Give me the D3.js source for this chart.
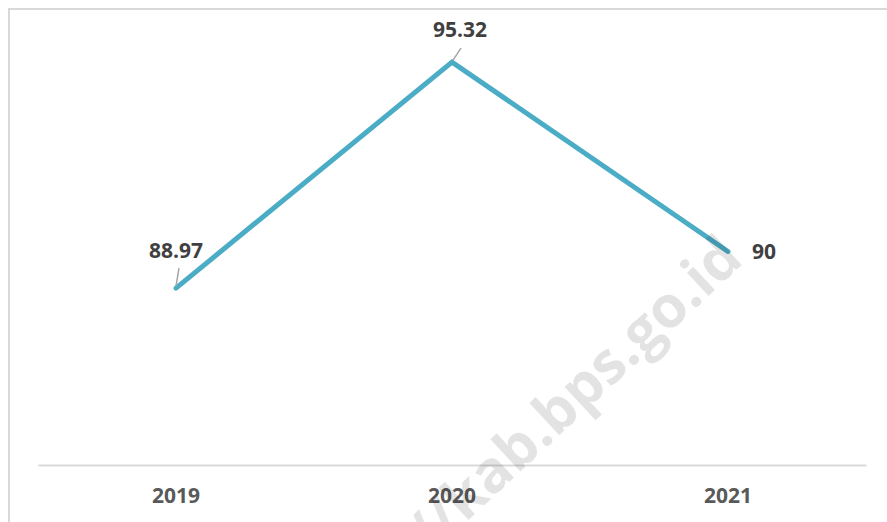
<html>
<head>
<meta charset="UTF-8" />
<script src="https://cdn.jsdelivr.net/npm/d3@7/dist/d3.min.js"></script>
<style>
  body { margin: 0; background: #fff; }
  text { font-family: "Open Sans", "DejaVu Sans", sans-serif; }
</style>
</head>
<body>
<div id="chart"></div>
<script>
// data
const years = ["2019", "2020", "2021"];
const values = [88.97, 95.32, 90];
const valueLabels = ["88.97", "95.32", "90"];

const width = 887, height = 522;

const svg = d3.select("#chart").append("svg")
    .attr("width", width)
    .attr("height", height);

// cadre gris (haut + gauche)
svg.append("path")
    .attr("d", "M9,522 V9 H887")
    .attr("fill", "none")
    .attr("stroke", "#d9d9d9")
    .attr("stroke-width", 2);

const x = d3.scaleBand().domain(years).range([38, 866]);
const y = d3.scaleLinear().domain([84, 97]).range([465, 2.3]);
const cx = d => x(d) + x.bandwidth() / 2;

// axe horizontal
const xAxis = svg.append("g")
    .attr("transform", "translate(0,465)")
    .call(d3.axisBottom(x).tickSize(0).tickPadding(23));
xAxis.select(".domain").attr("stroke", "#d9d9d9").attr("stroke-width", 2);
xAxis.selectAll("text")
    .attr("fill", "#595959")
    .style("font-size", "21px")
    .style("font-weight", "bold")
    .style("font-family", "'Open Sans', sans-serif");

const pts = years.map((d, i) => [cx(d), y(values[i])]);

// ligne
svg.append("path")
    .datum(pts)
    .attr("d", d3.line())
    .attr("fill", "none")
    .attr("stroke", "#4bacc6")
    .attr("stroke-width", 5)
    .attr("stroke-linecap", "round")
    .attr("stroke-linejoin", "miter");

// étiquettes de valeurs (avec petites lignes de rappel)
const labelPos = [
    { dx: 0, dy: -30, anchor: "middle", leader: [[0, -2], [3, -20]] },
    { dx: 8, dy: -25, anchor: "middle", leader: [[1, -2], [9, -14]] },
    { dx: 24, dy: 8, anchor: "start", leader: null }
];

labelPos.forEach((p, i) => {
    const [px, py] = pts[i];
    if (p.leader) {
        svg.append("line")
            .attr("x1", px + p.leader[0][0]).attr("y1", py + p.leader[0][1])
            .attr("x2", px + p.leader[1][0]).attr("y2", py + p.leader[1][1])
            .attr("stroke", "#a6a6a6")
            .attr("stroke-width", 1.5);
    }
    svg.append("text")
        .attr("x", px + p.dx)
        .attr("y", py + p.dy)
        .attr("text-anchor", p.anchor)
        .attr("fill", "#404040")
        .style("font-size", "21px")
        .style("font-weight", "bold")
        .text(valueLabels[i]);
});

// filigrane
svg.append("text")
    .attr("transform", "translate(745,262) rotate(-43)")
    .attr("text-anchor", "end")
    .attr("fill", "#000")
    .attr("fill-opacity", 0.11)
    .style("font-size", "58px")
    .style("font-weight", "bold")
    .text("https://kab.bps.go.id");
</script>
</body>
</html>
